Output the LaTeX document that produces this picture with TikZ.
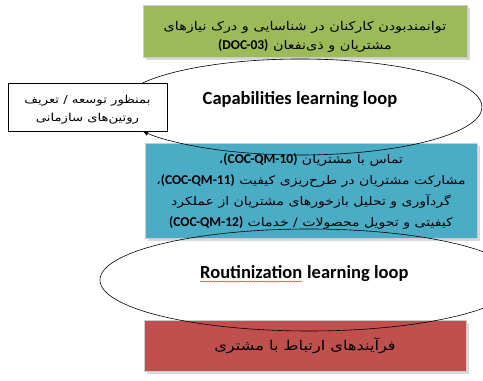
\documentclass[tikz,border=0pt]{standalone}
\usepackage{fontspec}
\setmainfont{Carlito}
\newfontfamily\fafont[Script=Arabic, FakeStretch=1.2]{DejaVu Sans}
\TeXXeTstate=1
\usetikzlibrary{arrows.meta, shapes.geometric, shadows, decorations.pathmorphing, positioning}

\definecolor{boxgreen}{HTML}{9BBB59}
\definecolor{boxblue}{HTML}{4BACC6}
\definecolor{boxred}{HTML}{C0504D}

\newcommand\farsi[1]{{\fafont\beginR #1\endR}}
\newcommand\code[1]{\beginL{\normalfont\bfseries\fontsize{13.5}{16}\selectfont #1}\endL{}}

\begin{document}
\begin{tikzpicture}
  [x=1pt, y=1pt,
   box/.style={draw=white!80!black, line width=1pt,
     drop shadow={shadow xshift=2.5pt, shadow yshift=-2.5pt, fill=black!30}},
   boxtext/.style={align=center, inner sep=0pt},
   looptext/.style={font=\fontsize{18.5}{22}\selectfont\bfseries, inner sep=0pt},
   loopline/.style={black, line width=0.6pt},
   spell/.style={red, line width=0.4pt, decorate,
     decoration={snake, amplitude=0.6pt, segment length=2.5pt}}]
  \useasboundingbox (0,0) rectangle (483,381);
  % boxes
  \node (needs) [box, fill=boxgreen, minimum width=324, minimum height=52]
    at (305,349) {};
  \node (needstext) [boxtext, font=\fontsize{12}{19}\selectfont]
    at ([yshift=-5pt]needs.center)
    {\farsi{توانمندبودن کارکنان در شناسایی و درک نیازهای}\\
     \farsi{مشتریان و ذی‌نفعان \code{(DOC-03)}}};
  \node (contact) [box, fill=boxblue, minimum width=332, minimum height=95]
    at (311,190) {};
  \node (contacttext) [boxtext, font=\fontsize{11.7}{21}\selectfont]
    at (contact.center)
    {\farsi{تماس با مشتریان \code{(COC-QM-10)}،}\\
     \farsi{مشارکت مشتریان در طرح‌ریزی کیفیت \code{(COC-QM-11)}،}\\
     \farsi{گردآوری و تحلیل بازخورهای مشتریان از عملکرد}\\
     \farsi{کیفیتی و تحویل محصولات / خدمات \code{(COC-QM-12)}}};
  \node (process) [box, fill=boxred, minimum width=322, minimum height=51]
    at (305,35) {};
  \node (processtext) [boxtext, font=\fontsize{13.5}{18}\selectfont]
    at (process.center) {\farsi{فرآیندهای ارتباط با مشتری}};
  \node (purpose) [draw=black, fill=white, line width=0.6pt,
    minimum width=159, minimum height=48] at (87.5,274) {};
  \node (purposetext) [boxtext, font=\fontsize{11}{18}\selectfont]
    at ([yshift=-3pt]purpose.center)
    {\farsi{بمنظور توسعه / تعریف}\\ \farsi{روتین‌های سازمانی}};
  % loops
  \node (caploop) [ellipse, minimum width=364, minimum height=96, inner sep=0pt]
    at (300,274) {};
  \node (captext) [looptext] at ([yshift=7pt]caploop.center)
    {Capabilities learning loop};
  \draw [loopline, -{Latex[length=6pt, width=5pt]}] (caploop.center)
    ++(150:182 and 48) arc [start angle=150, end angle=-150,
    x radius=182, y radius=48];
  \node (routloop) [ellipse, draw, loopline, minimum width=418,
    minimum height=102, inner sep=0pt] at (309,101) {};
  \node (routword) [looptext, anchor=base west]
    at ([xshift=-109pt, yshift=1pt]routloop.center) {Routinization};
  \node (routrest) [looptext, anchor=base west]
    at ([xshift=4.5pt]routword.base east) {learning loop};
  \draw [spell] ([yshift=-2.5pt]routword.base west)
    -- ([yshift=-2.5pt]routword.base east);
\end{tikzpicture}
\end{document}
